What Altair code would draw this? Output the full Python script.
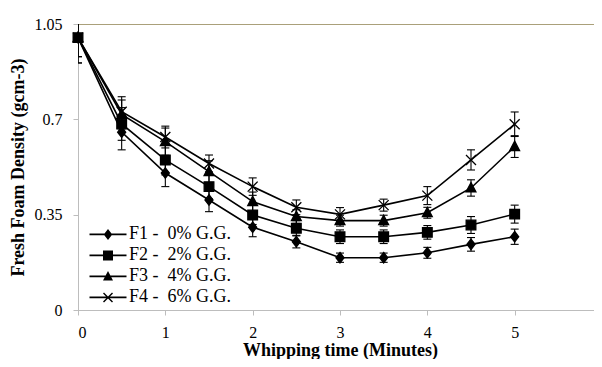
import altair as alt
import pandas as pd

times = [0, 0.5, 1, 1.5, 2, 2.5, 3, 3.5, 4, 4.5, 5]
names = ["F1 - \u00a00% G.G.", "F2 - \u00a02% G.G.", "F3 - \u00a04% G.G.", "F4 - \u00a06% G.G."]

f1 = [1.00, 0.653, 0.503, 0.404, 0.304, 0.251, 0.192, 0.192, 0.210, 0.241, 0.269]
f2 = [1.00, 0.683, 0.551, 0.453, 0.349, 0.300, 0.269, 0.269, 0.285, 0.312, 0.352]
f3 = [1.00, 0.718, 0.618, 0.508, 0.398, 0.343, 0.328, 0.328, 0.357, 0.448, 0.600]
f4 = [1.00, 0.728, 0.635, 0.538, 0.453, 0.377, 0.351, 0.385, 0.420, 0.551, 0.682]

e1 = [0.093, 0.065, 0.050, 0.043, 0.035, 0.023, 0.017, 0.017, 0.020, 0.025, 0.028]
e2 = [0.093, 0.060, 0.055, 0.045, 0.035, 0.028, 0.025, 0.025, 0.025, 0.031, 0.033]
e3 = [0.070, 0.053, 0.050, 0.040, 0.035, 0.025, 0.020, 0.020, 0.020, 0.030, 0.040]
e4 = [0.070, 0.055, 0.040, 0.031, 0.032, 0.027, 0.025, 0.022, 0.033, 0.037, 0.045]

rows = []
for name, vals, errs in zip(names, [f1, f2, f3, f4], [e1, e2, e3, e4]):
    for t, v, e in zip(times, vals, errs):
        rows.append({"t": t, "series": name, "v": v, "lo": v - e, "hi": v + e})
df = pd.DataFrame(rows)

FONT = "Liberation Serif"
xscale = alt.Scale(domain=[0, 6], nice=False, zero=False)
yscale = alt.Scale(domain=[0, 1.05], nice=False, zero=False)
xaxis = alt.Axis(values=[0, 1, 2, 3, 4, 5, 6], format="d", title="Whipping time (Minutes)",
                 grid=False, tickSize=5, labelPadding=22, labelBaseline="alphabetic",
                 labelFont=FONT, labelFontSize=16, labelColor="black",
                 titleFont=FONT, titleFontSize=18, titleFontWeight="bold", titleColor="black",
                 titleY=45, titleBaseline="alphabetic")
yaxis = alt.Axis(values=[0, 0.35, 0.7, 1.05], labelExpr="format(datum.value, '.2~f')",
                 title="Fresh Foam Density (gcm-3)",
                 grid=False, tickSize=5, labelPadding=11,
                 labelFont=FONT, labelFontSize=16, labelColor="black",
                 titleFont=FONT, titleFontSize=18, titleFontWeight="bold", titleColor="black",
                 titleX=-60, titleY=143, titleAngle=270, titleAlign="center", titleBaseline="middle")

X = alt.X("t:Q", scale=xscale, axis=xaxis)

def Y(field):
    return alt.Y(field + ":Q", scale=yscale, axis=yaxis)

base = alt.Chart(df)

lines = base.mark_line(color="black", strokeWidth=1.6).encode(x=X, y=Y("v"), detail="series:N")

rules = base.mark_rule(color="black", strokeWidth=1.1, clip=True).encode(
    x=X, y=Y("lo"), y2="hi:Q")
caps_lo = base.mark_point(shape="stroke", size=64, color="black", strokeWidth=1.1,
                          opacity=1, filled=False, clip=True).encode(x=X, y=Y("lo"))
caps_hi = base.mark_point(shape="stroke", size=64, color="black", strokeWidth=1.1,
                          opacity=1, filled=False, clip=True).encode(x=X, y=Y("hi"))

point_shapes = [
    "M0,-1.1L0.85,0L0,1.1L-0.85,0Z",
    "square",
    "M0,-1.1L1,0.8L-1,0.8Z",
    "M-1,-1L1,1M-1,1L1,-1",
]
point_sizes = [90, 100, 100, 64]
points = base.mark_point(filled=True, opacity=1, color="black", stroke="black",
                         strokeWidth=1.3).encode(
    x=X, y=Y("v"),
    shape=alt.Shape("series:N", scale=alt.Scale(domain=names, range=point_shapes), legend=None),
    size=alt.Size("series:N", scale=alt.Scale(domain=names, range=point_sizes), legend=None),
)

# legend symbols: filled paths (line segment + marker)
BAR = "M-3.7,-0.18H3.7V0.18H-3.7Z"
legend_shapes = [
    BAR + "M0,-1.1L0.85,0L0,1.1L-0.85,0Z",
    BAR + "M-1,-1H1V1H-1Z",
    BAR + "M0,-1.1L1,0.8L-1,0.8Z",
    BAR + "M-0.8,-1L1,0.8L0.8,1L-1,-0.8Z" + "M-0.8,1L-1,0.8L0.8,-1L1,-0.8Z",
]
legend_layer = base.mark_point(filled=True, color="black", opacity=0).encode(
    x=X, y=Y("v"),
    shape=alt.Shape("series:N", scale=alt.Scale(domain=names, range=legend_shapes),
                    legend=alt.Legend(title=None, orient="none", legendX=21, legendY=201.4,
                                      symbolSize=100, symbolFillColor="black",
                                      symbolStrokeWidth=0,
                                      symbolOpacity=1, labelOffset=12, rowPadding=3,
                                      padding=0, labelFont=FONT, labelFontSize=18,
                                      labelColor="black", labelLimit=0, symbolLimit=0)),
)

chart = alt.layer(lines, rules, caps_lo, caps_hi, points, legend_layer).resolve_scale(
    shape="independent", size="independent"
).properties(
    width=524, height=286,
    autosize=alt.AutoSizeParams(type="none"),
    padding={"left": 70, "top": 16, "right": -8, "bottom": 49},
).configure_view(
    stroke="#aaa07a", strokeWidth=1
).configure_axis(
    domainColor="#bdbdbd", tickColor="#bdbdbd", domainWidth=1, tickWidth=1,
)

chart.save("out.html", embed_options={"renderer": "svg", "actions": False})
